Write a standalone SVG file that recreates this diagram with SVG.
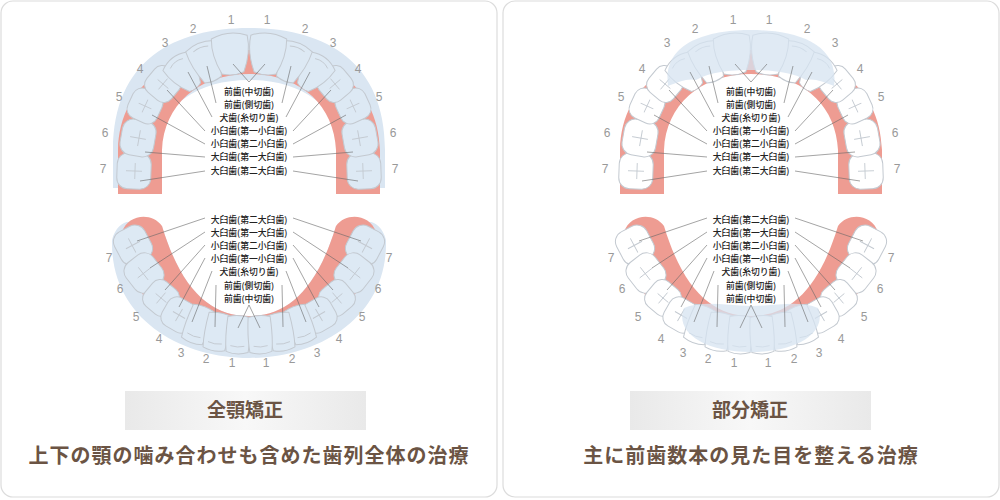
<svg xmlns="http://www.w3.org/2000/svg" xmlns:xlink="http://www.w3.org/1999/xlink" width="1000" height="500" viewBox="0 0 1000 500">
<style>
.card{fill:#fff;stroke:#dcdcdc;stroke-width:1.2}
.t{stroke:#c3c9d0;stroke-width:1}
.g{stroke:#c3c9d0;stroke-width:0.9;fill:none}
.gum{fill:#ee9c92}
.lead{stroke:#666;stroke-width:0.6;fill:none}
.lab{font-family:"Noto Sans CJK JP",sans-serif;font-size:8.8px;font-weight:500;fill:#222;text-anchor:middle}
.num{font-family:"Liberation Sans",sans-serif;font-size:12px;fill:#999;text-anchor:middle}
.ttl{font-family:"Noto Sans CJK JP",sans-serif;font-size:19px;font-weight:bold;fill:#6b5444;text-anchor:middle}
.sub{font-family:"Noto Sans CJK JP",sans-serif;font-size:20px;font-weight:bold;fill:#6b5444;text-anchor:middle;letter-spacing:1px}
.blue{fill:#dae6f2}
</style>
<defs>
<linearGradient id="bg" x1="0" x2="1"><stop offset="0" stop-color="#e9e9e9"/><stop offset="0.5" stop-color="#f8f8f8"/><stop offset="1" stop-color="#e9e9e9"/></linearGradient>
<g id="molar"><rect class="t" x="-18" y="-17" width="36" height="34" rx="11"/><path class="g" d="M-8,1 H8 M0,-8 V8"/></g>
<g id="pm"><rect class="t" x="-16" y="-16" width="32" height="32" rx="10"/><path class="g" d="M-7,0 H7 M0,-7 V7"/></g>
<g id="inc"><path class="t" d="M-18,-17 Q0,-25 18,-17 Q20,0 11,19 Q0,23 -11,19 Q-20,0 -18,-17 Z"/></g>
<g id="lat"><path class="t" d="M-15,-17 Q0,-23 15,-17 Q16,0 9,19 Q0,22 -9,19 Q-16,0 -15,-17 Z"/><path class="g" d="M-8,-14 Q0,-17 8,-14"/></g>
<g id="can"><path class="t" d="M-15,-15 Q0,-23 15,-15 Q16,2 7,18 Q0,21 -7,18 Q-16,2 -15,-15 Z"/><path class="g" d="M-8,-12 Q0,-16 8,-12"/></g>
<g id="linc"><path class="t" d="M-11,-17 Q0,-20 11,-17 Q13,4 11,18 Q0,22 -11,18 Q-13,4 -11,-17 Z"/><path class="g" d="M-7,12 Q0,14 7,12"/></g>
<g id="upHalf">
<use href="#molar" transform="translate(134,171) rotate(-88)"/>
<use href="#molar" transform="translate(138,138) rotate(-80)"/>
<use href="#pm" transform="translate(145,106) rotate(-65)"/>
<use href="#pm" transform="translate(163,84) rotate(-50)"/>
<use href="#can" transform="translate(184,73) rotate(-38)"/>
<use href="#lat" transform="translate(206,62) rotate(-22)"/>
<use href="#inc" transform="translate(231,54) rotate(-6)"/>
</g>
<g id="upLeads">
<path class="lead" d="M249,82 L233,64"/>
<path class="lead" d="M216,103 L207,66"/>
<path class="lead" d="M212,117 L188,72"/>
<path class="lead" d="M205,131 L167,90"/>
<path class="lead" d="M205,144 L152,115"/>
<path class="lead" d="M205,157 L145,152"/>
<path class="lead" d="M205,171 L140,181"/>
</g>
<g id="loHalf">
<use href="#molar" transform="translate(133,245) rotate(62)"/>
<use href="#molar" transform="translate(144,273) rotate(52)"/>
<use href="#pm" transform="translate(161,298) rotate(40)"/>
<use href="#pm" transform="translate(179,315) rotate(30)"/>
<use href="#linc" transform="translate(198,324) rotate(20)"/>
<use href="#linc" transform="translate(217,331) rotate(10)"/>
<use href="#linc" transform="translate(238,334) rotate(3)"/>
</g>
<g id="loLeads">
<path class="lead" d="M205,218 L137,241"/>
<path class="lead" d="M205,232 L150,268"/>
<path class="lead" d="M205,245 L165,290"/>
<path class="lead" d="M205,258 L179,307"/>
<path class="lead" d="M212,271 L192,322"/>
<path class="lead" d="M216,285 L215,327"/>
<path class="lead" d="M249,305 L238,328"/>
</g>
<g id="labels">
<text class="lab" x="249" y="95">前歯(中切歯)</text>
<text class="lab" x="249" y="108">前歯(側切歯)</text>
<text class="lab" x="249" y="121">犬歯(糸切り歯)</text>
<text class="lab" x="249" y="134">小臼歯(第一小臼歯)</text>
<text class="lab" x="249" y="147">小臼歯(第二小臼歯)</text>
<text class="lab" x="249" y="160">大臼歯(第一大臼歯)</text>
<text class="lab" x="249" y="174">大臼歯(第二大臼歯)</text>
<text class="lab" x="249" y="223">大臼歯(第二大臼歯)</text>
<text class="lab" x="249" y="236">大臼歯(第一大臼歯)</text>
<text class="lab" x="249" y="249">小臼歯(第二小臼歯)</text>
<text class="lab" x="249" y="262">小臼歯(第一小臼歯)</text>
<text class="lab" x="249" y="275">犬歯(糸切り歯)</text>
<text class="lab" x="249" y="289">前歯(側切歯)</text>
<text class="lab" x="249" y="302">前歯(中切歯)</text>
</g>
<g id="nums">
<text class="num" x="231" y="24">1</text><text class="num" x="267" y="24">1</text>
<text class="num" x="193" y="33">2</text><text class="num" x="305" y="33">2</text>
<text class="num" x="165" y="47">3</text><text class="num" x="333" y="47">3</text>
<text class="num" x="140" y="73">4</text><text class="num" x="358" y="73">4</text>
<text class="num" x="119" y="101">5</text><text class="num" x="379" y="101">5</text>
<text class="num" x="105" y="137">6</text><text class="num" x="393" y="137">6</text>
<text class="num" x="103" y="173">7</text><text class="num" x="395" y="173">7</text>
<text class="num" x="109" y="262">7</text><text class="num" x="389" y="262">7</text>
<text class="num" x="120" y="293">6</text><text class="num" x="378" y="293">6</text>
<text class="num" x="136" y="321">5</text><text class="num" x="362" y="321">5</text>
<text class="num" x="159" y="343">4</text><text class="num" x="339" y="343">4</text>
<text class="num" x="181" y="357">3</text><text class="num" x="317" y="357">3</text>
<text class="num" x="206" y="363">2</text><text class="num" x="292" y="363">2</text>
<text class="num" x="232" y="367">1</text><text class="num" x="266" y="367">1</text>
</g>
<path id="upGum" class="gum" d="M118,194 L118,150 C120,80 178,50 249,50 C320,50 378,80 380,150 L380,194 L336,194 L336,150 C334,105 300,74 249,74 C198,74 164,105 162,150 L162,194 Z"/>
<path id="loGum" class="gum" d="M122,232 C128,214 152,212 162,226 C182,292 212,316 249,316 C286,316 316,292 336,226 C346,212 370,214 376,232 C372,300 320,345 249,345 C178,345 126,300 122,232 Z"/>
</defs>

<rect class="card" x="1" y="1" width="496" height="496" rx="12"/>
<rect class="card" x="503" y="1" width="496" height="496" rx="12"/>

<g id="left">
<path class="blue" d="M113,188 L113,150 C113,60 175,28 249,28 C323,28 385,60 385,150 L385,188 L342,188 L342,150 C338,105 300,80 249,80 C198,80 160,105 156,150 L156,188 Z"/>
<use href="#upGum"/>
<path class="blue" d="M112,240 C110,318 180,358 249,358 C318,358 388,318 386,240 C382,224 370,218 362,224 L336,226 C316,292 286,316 249,316 C212,316 182,292 162,226 L136,224 C128,218 116,224 112,240 Z"/>
<use href="#loGum"/>
<g fill="#dde9f4">
<use href="#upHalf"/><use href="#upHalf" transform="translate(498,0) scale(-1,1)"/>
<use href="#loHalf"/><use href="#loHalf" transform="translate(498,0) scale(-1,1)"/>
</g>
<g id="leftConnectors">
<use href="#upLeads"/><use href="#upLeads" transform="translate(498,0) scale(-1,1)"/>
<use href="#loLeads"/><use href="#loLeads" transform="translate(498,0) scale(-1,1)"/>
</g>
<use href="#labels"/><use href="#nums"/>
<rect x="125" y="391" width="241" height="39" fill="url(#bg)"/>
<text class="ttl" x="245" y="417">全顎矯正</text>
<text class="sub" x="249" y="463">上下の顎の噛み合わせも含めた歯列全体の治療</text>
</g>

<g id="right" transform="translate(502,0)">
<use href="#upGum"/>
<use href="#loGum"/>
<g fill="#ffffff">
<use href="#upHalf"/><use href="#upHalf" transform="translate(498,0) scale(-1,1)"/>
<use href="#loHalf"/><use href="#loHalf" transform="translate(498,0) scale(-1,1)"/>
</g>
<path fill="#d6e3f0" opacity="0.75" d="M166,86 C160,40 210,30 249,30 C288,30 338,40 332,86 C322,82 312,78 304,80 C290,72 270,70 249,70 C228,70 208,72 194,80 C186,78 176,82 166,86 Z"/>
<path fill="#d6e3f0" opacity="0.75" d="M182,308 C200,300 225,306 249,306 C273,306 298,300 316,308 C325,330 300,352 249,352 C198,352 173,330 182,308 Z"/>
<g id="rightConnectors">
<use href="#upLeads"/><use href="#upLeads" transform="translate(498,0) scale(-1,1)"/>
<use href="#loLeads"/><use href="#loLeads" transform="translate(498,0) scale(-1,1)"/>
</g>
<use href="#labels"/><use href="#nums"/>
<rect x="128" y="391" width="241" height="39" fill="url(#bg)"/>
<text class="ttl" x="248" y="417">部分矯正</text>
<text class="sub" x="249" y="463">主に前歯数本の見た目を整える治療</text>
</g>
</svg>
